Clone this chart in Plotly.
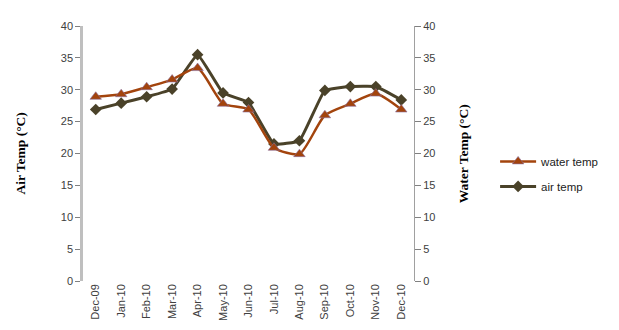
import plotly.graph_objects as go

months = ["Dec-09", "Jan-10", "Feb-10", "Mar-10", "Apr-10", "May-10", "Jun-10",
          "Jul-10", "Aug-10", "Sep-10", "Oct-10", "Nov-10", "Dec-10"]
water_temp = [28.9, 29.3, 30.4, 31.6, 33.4, 27.8, 26.9, 20.9, 19.9, 26.0, 27.8, 29.4, 26.9]
air_temp = [26.9, 27.9, 28.9, 30.1, 35.5, 29.5, 28.0, 21.5, 22.0, 29.9, 30.5, 30.5, 28.4]
y_ticks = [0, 5, 10, 15, 20, 25, 30, 35, 40]

water_color = "#A3440D"
air_color = "#4A4229"
tick_font = dict(family="Liberation Sans, Arial, sans-serif", size=11, color="#404040")

fig = go.Figure()
fig.add_trace(go.Scatter(
    x=months, y=water_temp, name="water temp", yaxis="y2", legendgroup="w",
    mode="lines+markers", line=dict(color=water_color, width=2.5, shape="spline", smoothing=0.6),
    marker=dict(symbol="triangle-up", size=10, color=water_color, line=dict(color="#8A6FA0", width=0.6)),
))
fig.add_trace(go.Scatter(
    x=months, y=air_temp, name="air temp", legendgroup="a",
    mode="lines+markers", line=dict(color=air_color, width=3, shape="spline", smoothing=0.3),
    marker=dict(symbol="diamond", size=9, color=air_color),
))

fig.update_layout(
    width=619, height=330,
    margin=dict(l=75, r=213, t=16, b=57),
    paper_bgcolor="white", plot_bgcolor="white",
    showlegend=True,
    legend=dict(x=1.245, y=0.42, xanchor="left", yanchor="middle",
                font=dict(family="Liberation Sans, Arial, sans-serif", size=11.5, color="#222222"),
                tracegroupgap=6, itemwidth=36),
    xaxis=dict(type="category", range=[-0.5, 12.5], tickangle=-90,
               tickfont=tick_font, showgrid=False, showline=False, ticks="", zeroline=False),
    yaxis=dict(range=[0, 40], tickvals=y_ticks, tickfont=tick_font, showgrid=False,
               showline=True, linecolor="#BFBFBF", linewidth=2.5, ticks="outside",
               tickcolor="#808080", ticklen=5, zeroline=False),
    yaxis2=dict(range=[0, 40], tickvals=y_ticks, tickfont=tick_font, overlaying="y", side="right",
                showgrid=False, showline=True, linecolor="#A0A0A0", linewidth=1, ticks="outside",
                tickcolor="#808080", ticklen=6, zeroline=False),
    annotations=[
        dict(text="<b>Air Temp (°C)</b>", xref="paper", yref="paper", x=-0.19, y=0.5,
             showarrow=False, textangle=-90, xanchor="center", yanchor="middle",
             font=dict(family="Liberation Serif, Times New Roman, serif", size=13.5, color="black")),
        dict(text="<b>Water Temp (°C)</b>", xref="paper", yref="paper", x=1.15, y=0.5,
             showarrow=False, textangle=-90, xanchor="center", yanchor="middle",
             font=dict(family="Liberation Serif, Times New Roman, serif", size=13.5, color="black")),
    ],
)

fig.write_html("out.html")
